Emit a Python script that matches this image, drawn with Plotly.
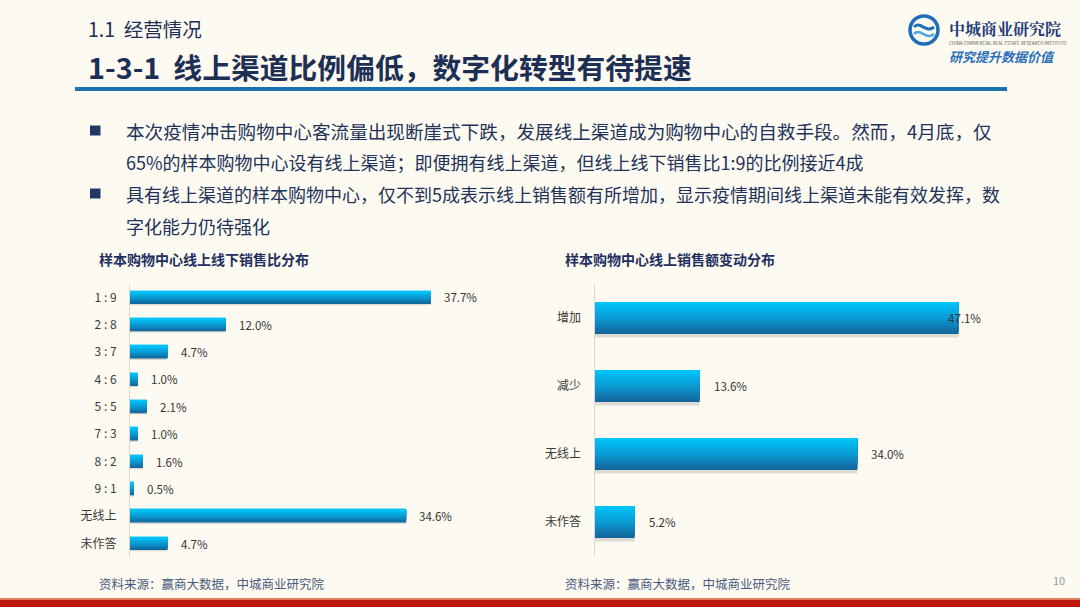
import plotly.graph_objects as go

# ---------------- data ----------------
left_categories = ["1 : 9", "2 : 8", "3 : 7", "4 : 6", "5 : 5", "7 : 3", "8 : 2", "9 : 1", "无线上", "未作答"]
left_values = [37.7, 12.0, 4.7, 1.0, 2.1, 1.0, 1.6, 0.5, 34.6, 4.7]

right_categories = ["增加", "减少", "无线上", "未作答"]
right_values = [47.1, 13.6, 34.0, 5.2]

header_small = "1.1  经营情况"
header_title = "1-3-1  线上渠道比例偏低，数字化转型有待提速"
bullet_lines = [
    "本次疫情冲击购物中心客流量出现断崖式下跌，发展线上渠道成为购物中心的自救手段。然而，4月底，仅",
    "65%的样本购物中心设有线上渠道；即便拥有线上渠道，但线上线下销售比1:9的比例接近4成",
    "具有线上渠道的样本购物中心，仅不到5成表示线上销售额有所增加，显示疫情期间线上渠道未能有效发挥，数",
    "字化能力仍待强化",
]
left_title = "样本购物中心线上线下销售比分布"
right_title = "样本购物中心线上销售额变动分布"
source_text = "资料来源：赢商大数据，中城商业研究院"
page_number = "10"

# ---------------- layout helpers ----------------
W, H = 1080, 607
FONT = "Noto Sans CJK SC"
BG = "#FDFAF1"
NAVY = "#1E2F55"


def px(x):
    return x / W


def py(y):
    return 1 - y / H


def lerp_color(c1, c2, t):
    a = [int(c1[i:i + 2], 16) for i in (1, 3, 5)]
    b = [int(c2[i:i + 2], 16) for i in (1, 3, 5)]
    return "#" + "".join(f"{round(a[k] + (b[k] - a[k]) * t):02X}" for k in range(3))


fig = go.Figure()

# gradient-like bar layers (bottom dark -> top bright)
N_LAYERS = 16
BOTTOM_C, MID_C, TOP_C = "#13679C", "#0A9AD3", "#00C3F8"
layer_colors = []
for i in range(N_LAYERS):
    t = i / (N_LAYERS - 1)
    if t < 0.5:
        layer_colors.append(lerp_color(BOTTOM_C, MID_C, t / 0.5))
    else:
        layer_colors.append(lerp_color(MID_C, TOP_C, (t - 0.5) / 0.5))
BAR_W = 0.47


def add_bars(cats, vals, xa, ya):
    # soft shadow
    fig.add_trace(go.Bar(
        y=cats, x=vals, orientation="h", xaxis=xa, yaxis=ya,
        width=BAR_W, offset=-BAR_W / 2 + 0.05,
        marker=dict(color="rgba(60,60,60,0.16)", line=dict(width=0)),
        hoverinfo="skip", showlegend=False))
    n = len(layer_colors)
    for i, c in enumerate(layer_colors):
        w = BAR_W * (n - i) / n
        fig.add_trace(go.Bar(
            y=cats, x=vals, orientation="h", xaxis=xa, yaxis=ya,
            width=w, offset=-BAR_W / 2,
            marker=dict(color=c, line=dict(width=0)),
            hoverinfo="skip", showlegend=False))


add_bars(left_categories, left_values, "x", "y")
add_bars(right_categories, right_values, "x2", "y2")

LEFT_X0, LEFT_PPU, LEFT_MAX = 130, 7.98, 45
RIGHT_X0, RIGHT_PPU, RIGHT_MAX = 594.5, 7.73, 55

axis_common_y = dict(
    showgrid=False, zeroline=False, showline=True, linecolor="#D6D6D6", linewidth=1,
    ticks="", tickfont=dict(family=FONT, size=12, color="#3A3A3A"),
    ticklabelstandoff=10, type="category", fixedrange=True,
)
axis_common_x = dict(visible=False, showgrid=False, zeroline=False, fixedrange=True)

fig.update_layout(
    width=W, height=H,
    margin=dict(l=0, r=0, t=0, b=0),
    paper_bgcolor=BG, plot_bgcolor="rgba(0,0,0,0)",
    barmode="overlay", showlegend=False,
    font=dict(family=FONT, color="#333333"),
    xaxis=dict(axis_common_x, domain=[px(LEFT_X0), px(LEFT_X0 + LEFT_PPU * LEFT_MAX)],
               range=[0, LEFT_MAX], anchor="y"),
    yaxis=dict(axis_common_y, domain=[py(557.2), py(283.8)],
               categoryorder="array", categoryarray=left_categories,
               range=[len(left_categories) - 0.5, -0.5], anchor="x"),
    xaxis2=dict(axis_common_x, domain=[px(RIGHT_X0), px(RIGHT_X0 + RIGHT_PPU * RIGHT_MAX)],
                range=[0, RIGHT_MAX], anchor="y2"),
    yaxis2=dict(axis_common_y, domain=[py(556), py(284)],
                categoryorder="array", categoryarray=right_categories,
                range=[len(right_categories) - 0.5, -0.5], anchor="x2"),
)

annotations = []

# value labels
for c, v in zip(left_categories, left_values):
    annotations.append(dict(x=v, y=c, xref="x", yref="y", text=f"{v:.1f}%",
                            showarrow=False, xanchor="left", yanchor="middle", xshift=11,
                            font=dict(family=FONT, size=11.5, color="#333333")))
for c, v in zip(right_categories, right_values):
    shift = -13 if v > 45 else 12
    annotations.append(dict(x=v, y=c, xref="x2", yref="y2", text=f"{v:.1f}%",
                            showarrow=False, xanchor="left", yanchor="middle", xshift=shift,
                            font=dict(family=FONT, size=11.5, color="#333333")))


def txt(x, y, text, size, color, anchor="left", bold=False, family=FONT, italic=False):
    t = text
    if bold:
        t = f"<b>{t}</b>"
    if italic:
        t = f"<i>{t}</i>"
    annotations.append(dict(x=px(x), y=py(y), xref="paper", yref="paper", text=t,
                            showarrow=False, xanchor=anchor, yanchor="middle",
                            font=dict(family=family, size=size, color=color)))


# header
txt(86, 29, header_small, 19.5, NAVY)
txt(86, 66, header_title, 28.8, NAVY, bold=True)

# bullets (first lines of each paragraph are justified to the same right edge)
bullet_y = [130.5, 161.5, 193.5, 225.5]
bullet_sizes = [18.6, 18, 18, 18]
for line, y, s in zip(bullet_lines, bullet_y, bullet_sizes):
    txt(124, y, line, s, "#22335A")

# chart titles
txt(97, 259, left_title, 14, "#1F3060", bold=True)
txt(563, 259, right_title, 14, "#1F3060", bold=True)

# sources
txt(97, 583, source_text, 12.5, "#4A5A80")
txt(563, 583, source_text, 12.5, "#4A5A80")
txt(1067, 580, page_number, 11, "#9A9A9A", anchor="right")

# logo texts
txt(947, 29, "中城商业研究院", 16, "#1F3A78", bold=True, family="Noto Serif CJK SC, Noto Sans CJK SC")
txt(947, 43, "CHINA COMMERCIAL REAL ESTATE RESEARCH INSTITUTE", 4.5, "#555555")
txt(947, 57, "研究提升数据价值", 13, "#2A6FB8", bold=True, italic=True)

fig.update_layout(annotations=annotations)

# shapes
shapes = []
# header blue rule
shapes.append(dict(type="rect", xref="paper", yref="paper",
                   x0=px(75), x1=px(1007), y0=py(91), y1=py(87),
                   fillcolor="#1A72B0", line=dict(width=0)))
# bottom red band
shapes.append(dict(type="rect", xref="paper", yref="paper",
                   x0=0, x1=1, y0=py(607), y1=py(599),
                   fillcolor="#BE1A0C", line=dict(width=0)))
shapes.append(dict(type="rect", xref="paper", yref="paper",
                   x0=0, x1=1, y0=py(600), y1=py(598),
                   fillcolor="#E07A5A", line=dict(width=0)))
# bullet squares
for y in [bullet_y[0], bullet_y[2]]:
    shapes.append(dict(type="rect", xref="paper", yref="paper",
                       x0=px(90), x1=px(100.5), y0=py(y + 5), y1=py(y - 5),
                       fillcolor="#1F3864", line=dict(width=0)))
# logo circle
shapes.append(dict(type="circle", xref="paper", yref="paper",
                   x0=px(910), x1=px(938), y0=py(44), y1=py(16),
                   fillcolor="rgba(0,0,0,0)", line=dict(color="#1E6FB8", width=3.5)))
shapes.append(dict(type="path", xref="paper", yref="paper",
                   path=f"M {px(914)} {py(27)} C {px(920)} {py(20)}, {px(926)} {py(34)}, {px(934)} {py(27)}",
                   line=dict(color="#1E6FB8", width=3)))
shapes.append(dict(type="path", xref="paper", yref="paper",
                   path=f"M {px(914)} {py(34)} C {px(920)} {py(27)}, {px(926)} {py(41)}, {px(934)} {py(34)}",
                   line=dict(color="#4FA3DE", width=2.5)))
fig.update_layout(shapes=shapes)

fig.write_html("out.html", config=dict(displayModeBar=False))
